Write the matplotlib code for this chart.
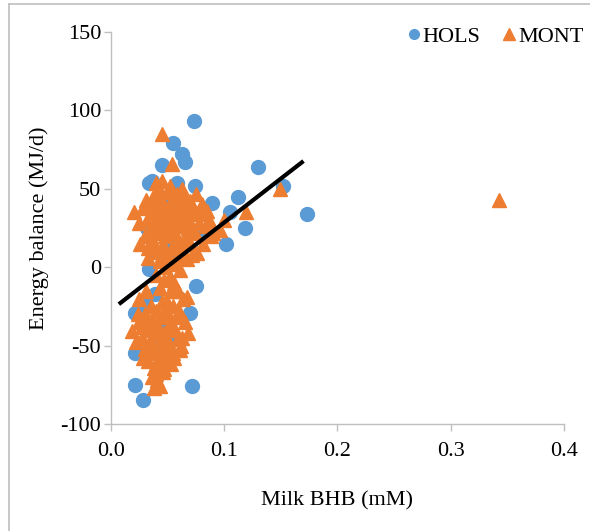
import matplotlib
matplotlib.use("Agg")
import matplotlib.pyplot as plt
from matplotlib.lines import Line2D

plt.rcParams['font.family'] = ['Liberation Serif', 'DejaVu Serif']

# Holstein cows: milk BHB (mM) vs energy balance (MJ/d)
hols_x = [0.073, 0.055, 0.063, 0.065, 0.045, 0.034, 0.058, 0.057, 0.074, 0.130,
          0.152, 0.112, 0.089, 0.105, 0.173, 0.118, 0.102, 0.070, 0.032, 0.034,
          0.075, 0.030, 0.021, 0.070, 0.021, 0.050, 0.021, 0.072, 0.028, 0.039,
          0.048, 0.055, 0.060, 0.045, 0.038, 0.055, 0.050, 0.080, 0.065, 0.040,
          0.036, 0.062]
hols_y = [93, 79, 72, 67, 65, 54, 54, 49, 52, 64,
          52, 45, 41, 35, 34, 25, 15, 24, 25, -1,
          -12, -24, -29, -29, -55, -62, -75, -76, -85, -17,
          30, 15, 5, -40, -50, -45, 40, 20, 28, 10,
          55, 45]

# Montbéliarde cows
mont_x = [0.045, 0.054, 0.040, 0.040, 0.045, 0.050, 0.055, 0.060, 0.065, 0.070,
          0.075, 0.080, 0.085, 0.078, 0.087, 0.090, 0.096, 0.020, 0.028, 0.032,
          0.035, 0.038, 0.042, 0.047, 0.050, 0.053, 0.057, 0.060, 0.063, 0.067,
          0.070, 0.073, 0.035, 0.040, 0.044, 0.048, 0.052, 0.056, 0.059, 0.062,
          0.066, 0.070, 0.074, 0.081, 0.076, 0.026, 0.030, 0.033, 0.038, 0.042,
          0.046, 0.050, 0.054, 0.058, 0.063, 0.067, 0.033, 0.043, 0.048, 0.052,
          0.061, 0.056, 0.067, 0.043, 0.049, 0.040, 0.059, 0.045, 0.063, 0.100,
          0.119, 0.149, 0.343, 0.088,
          0.037, 0.043, 0.052, 0.058, 0.068, 0.036, 0.046, 0.054, 0.064, 0.072,
          0.039, 0.049, 0.058, 0.045, 0.055, 0.047, 0.053, 0.058, 0.068, 0.078,
          0.031, 0.025, 0.084, 0.041, 0.062,
          0.019, 0.025, 0.030, 0.035, 0.040, 0.045, 0.050, 0.055, 0.060, 0.065,
          0.068, 0.062, 0.061, 0.022, 0.027, 0.032, 0.037, 0.042, 0.047, 0.052,
          0.057, 0.030, 0.035, 0.040, 0.045, 0.050, 0.055, 0.033, 0.038, 0.043,
          0.048, 0.036, 0.041, 0.046, 0.038, 0.043, 0.028, 0.025, 0.058, 0.053,
          0.024, 0.044, 0.064, 0.031,
          0.033, 0.043, 0.048, 0.038, 0.050, 0.059, 0.027, 0.045, 0.040, 0.035,
          0.052, 0.047, 0.040, 0.056, 0.063]
mont_y = [85, 66, 54, 46, 42, 48, 44, 40, 45, 42,
          47, 40, 36, 34, 30, 22, 24, 35, 38, 30,
          40, 35, 33, 36, 30, 38, 34, 30, 36, 32,
          28, 35, 25, 22, 27, 20, 25, 22, 18, 26,
          20, 15, 22, 15, 9, 15, 20, 12, 15, 10,
          14, 8, 12, 6, 10, 5, 6, 4, 0, -6,
          -2, -10, -19, -13, -21, -5, -15, 55, 50, 30,
          35, 50, 43, 20,
          45, 48, 52, 47, 38, 18, 25, 30, 17, 8,
          28, 33, 28, 8, 2, -8, -15, 12, 25, 28,
          43, 28, 26, 39, 44,
          -41, -35, -30, -25, -28, -22, -30, -25, -28, -35,
          -42, -50, -53, -48, -45, -40, -36, -38, -42, -36,
          -40, -52, -48, -55, -50, -47, -55, -60, -64, -60,
          -58, -70, -72, -67, -77, -76, -58, -20, -32, -62,
          -30, -45, -20, -15,
          -33, -32, -27, -42, -40, -46, -38, -55, -62, -55,
          -52, -65, -68, -58, -45]

# Linear fit: energy balance = intercept + slope * BHB
fit_intercept = -27.5
fit_slope = 560.0
fit_range = [0.007, 0.170]

x_ticks = [0.0, 0.1, 0.2, 0.3, 0.4]
y_ticks = [-100, -50, 0, 50, 100, 150]

blue = '#5B9BD5'
orange = '#ED7D31'
grey = '#BFBFBF'

fig = plt.figure(figsize=(5.90, 5.31), dpi=100)
ax = fig.add_axes([0.188, 0.2015, 0.768, 0.7382])

ax.plot(hols_x, hols_y, linestyle='none', marker='o', markersize=10,
        markerfacecolor=blue, markeredgecolor=blue, label='HOLS', zorder=2)
ax.plot(mont_x, mont_y, linestyle='none', marker='^', markersize=10.5,
        markerfacecolor=orange, markeredgecolor=orange, label='MONT', zorder=3)

fx = fit_range
fy = [fit_intercept + fit_slope * v for v in fx]
ax.plot(fx, fy, color='black', linewidth=3, solid_capstyle='butt', zorder=4)

ax.set_xlim(0, 0.4)
ax.set_ylim(-100, 150)
ax.set_xticks(x_ticks)
ax.set_xticklabels([f"{v:.1f}" for v in x_ticks])
ax.set_yticks(y_ticks)
ax.set_yticklabels([str(v) for v in y_ticks])

for side in ('top', 'right'):
    ax.spines[side].set_visible(False)
for side in ('left', 'bottom'):
    ax.spines[side].set_color(grey)
    ax.spines[side].set_linewidth(1.0)
ax.tick_params(axis='both', direction='out', length=5, width=1.0, color=grey,
               labelsize=16, labelcolor='black')
ax.tick_params(axis='x', pad=8)
ax.tick_params(axis='y', pad=2)

ax.set_xlabel('Milk BHB (mM)', fontsize=16, labelpad=22)
ax.set_ylabel('Energy balance (MJ/d)', fontsize=16, labelpad=8)

handles = [
    Line2D([], [], linestyle='none', marker='o', markersize=7,
           markerfacecolor=blue, markeredgecolor=blue),
    Line2D([], [], linestyle='none', marker='^', markersize=8,
           markerfacecolor=orange, markeredgecolor=orange),
]
fig.legend(handles, ['HOLS', 'MONT'], loc='upper right',
           bbox_to_anchor=(1.012, 0.975), ncol=2, frameon=False, fontsize=16,
           handlelength=0.6, handletextpad=0.1, columnspacing=1.0,
           borderaxespad=0.2)

# thin frame around the figure on the left and top
fig.add_artist(Line2D([9 / 590, 9 / 590], [0, 1 - 4 / 531],
                      transform=fig.transFigure, color=grey, linewidth=1.2))
fig.add_artist(Line2D([9 / 590, 1], [1 - 4 / 531, 1 - 4 / 531],
                      transform=fig.transFigure, color=grey, linewidth=1.2))

fig.savefig('out.png', dpi=100)
